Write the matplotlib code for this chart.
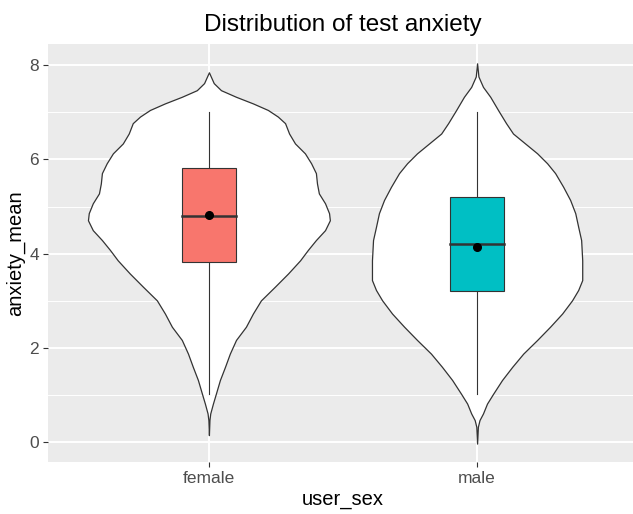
import matplotlib.pyplot as plt
import numpy as np

plt.rcParams['font.family'] = ['Liberation Sans', 'DejaVu Sans']

# groups
groups = ["female", "male"]
fills = ["#F8766D", "#00BFC4"]

# violin outline: y value and half-width (x units)
female_y = [7.85, 7.62, 7.47, 7.33, 7.19, 7.05, 6.91, 6.77, 6.55, 6.34, 6.13, 5.92, 5.71,
            5.49, 5.28, 5.07, 4.86, 4.71, 4.50, 4.29, 4.08, 3.86, 3.58, 3.30, 3.01, 2.73,
            2.45, 2.17, 1.88, 1.60, 1.32, 1.03, 0.82, 0.61, 0.47, 0.15]
female_w = [0.0, 0.018, 0.045, 0.101, 0.164, 0.22, 0.257, 0.284, 0.299, 0.321, 0.358, 0.381,
            0.399, 0.403, 0.41, 0.433, 0.448, 0.451, 0.433, 0.399, 0.369, 0.34, 0.295, 0.246,
            0.194, 0.164, 0.138, 0.101, 0.078, 0.06, 0.041, 0.026, 0.015, 0.005, 0.002, 0.0]
male_y = [8.04, 7.76, 7.54, 7.33, 7.05, 6.77, 6.55, 6.34, 6.13, 5.92, 5.71, 5.42, 5.14,
          4.86, 4.57, 4.29, 3.86, 3.44, 3.23, 3.01, 2.73, 2.45, 2.17, 1.88, 1.60, 1.32,
          1.03, 0.82, 0.61, 0.47, 0.33, -0.03]
male_w = [0.0, 0.005, 0.022, 0.049, 0.078, 0.108, 0.134, 0.179, 0.224, 0.261, 0.291, 0.321,
          0.347, 0.366, 0.377, 0.388, 0.392, 0.392, 0.377, 0.354, 0.317, 0.272, 0.224, 0.172,
          0.131, 0.093, 0.06, 0.037, 0.022, 0.009, 0.003, 0.0]

# boxplot stats
q1 = [3.82, 3.20]
median = [4.81, 4.20]
q3 = [5.81, 5.20]
whisk_lo = [1.03, 1.03]
whisk_hi = [7.0, 7.0]
means = [4.82, 4.14]

fig = plt.figure(figsize=(6.33, 5.14), dpi=100)
ax = fig.add_axes([48 / 633, 52 / 514, 590 / 633, 418 / 514])
ax.set_facecolor("#EBEBEB")

violins = [(female_y, female_w), (male_y, male_w)]
for i, (vy, vw) in enumerate(violins):
    x = i + 1
    vy = np.array(vy)
    vw = np.array(vw)
    ax.fill_betweenx(vy, x - vw, x + vw, facecolor="white", edgecolor="#333333",
                     linewidth=0.9, zorder=2)

    # whiskers
    ax.plot([x, x], [whisk_lo[i], q1[i]], color="#333333", lw=0.8, zorder=3)
    ax.plot([x, x], [q3[i], whisk_hi[i]], color="#333333", lw=0.8, zorder=3)
    # box
    ax.bar(x, q3[i] - q1[i], bottom=q1[i], width=0.2, color=fills[i],
           edgecolor="#333333", linewidth=0.8, zorder=3)
    ax.plot([x - 0.1, x + 0.1], [median[i], median[i]], color="#333333", lw=1.8, zorder=4)
    ax.plot(x, means[i], "o", color="black", markersize=5.5, zorder=5)

ax.set_xlim(0.4, 2.6)
ax.set_ylim(-0.42, 8.45)
ax.set_xticks([1, 2])
ax.set_xticklabels(groups)
ax.set_yticks([0, 2, 4, 6, 8])
ax.set_yticks([1, 3, 5, 7], minor=True)
ax.grid(which="major", color="white", lw=1.4, zorder=0)
ax.grid(which="minor", axis="y", color="white", lw=0.7, zorder=0)
ax.set_axisbelow(True)
for s in ax.spines.values():
    s.set_visible(False)
ax.tick_params(which="major", length=3.6, width=0.8, color="#333333",
               labelcolor="#4D4D4D", labelsize=12.5, pad=3)
ax.tick_params(which="minor", length=0)

ax.set_xlabel("user_sex", fontsize=14.5, color="black", labelpad=3)
ax.set_ylabel("anxiety_mean", fontsize=14.5, color="black", labelpad=3)
ax.set_title("Distribution of test anxiety", fontsize=17.5, pad=9)

fig.savefig("out.png", dpi=100)
